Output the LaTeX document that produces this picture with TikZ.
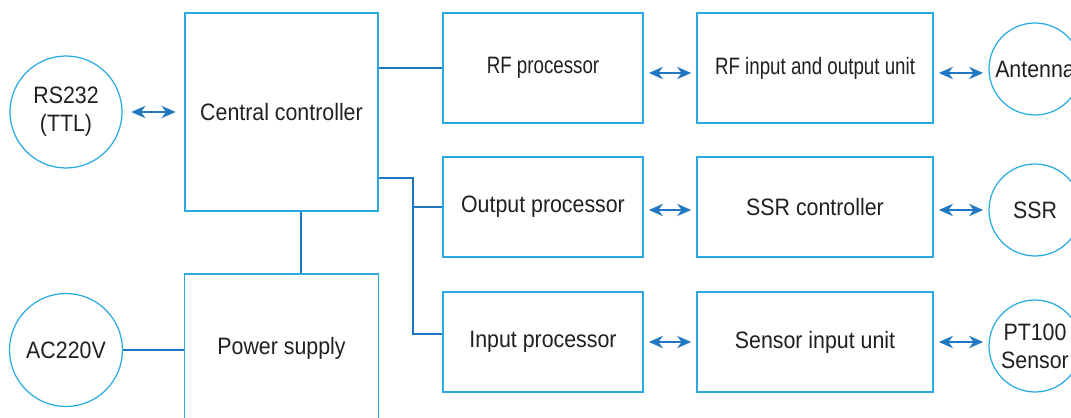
\documentclass[tikz,border=0pt]{standalone}
\usepackage{fontspec}
\setmainfont[FakeStretch=0.9]{Liberation Sans}
\newfontfamily\narrowfont[FakeStretch=0.79]{Liberation Sans}
\usetikzlibrary{arrows.meta}
\definecolor{boxblue}{RGB}{41,171,226}
\definecolor{linkblue}{RGB}{31,120,193}
\definecolor{inkgray}{RGB}{35,31,32}
\tikzset{
  unitbox/.style={draw=boxblue, line width=0.7pt, text=inkgray,
    font=\fontsize{13.5}{16}\selectfont},
  endpoint/.style={circle, draw=boxblue, line width=0.7pt, text=inkgray,
    align=center, inner sep=0pt, font=\fontsize{13.5}{16}\selectfont},
  link/.style={draw=linkblue, line width=0.8pt},
  biarrow/.style={draw=linkblue, line width=1pt,
    {Stealth[length=8pt,width=7pt]}-{Stealth[length=8pt,width=7pt]},
    shorten <=3pt, shorten >=3pt}
}
\begin{document}
\begin{tikzpicture}[x=0.02cm, y=-0.02cm]
      \clip (0,0) rectangle (1071,418);
      \fill[white] (0,0) rectangle (1071,418);
      \draw
        (281.5,112) node[unitbox, minimum width=3.86cm, minimum height=3.96cm] (cc){Central controller}
        (281.5,348) node[unitbox, minimum width=3.88cm, minimum height=2.96cm] (ps){Power supply}
        (66,112) node[endpoint, minimum size=2.24cm] (rs){RS232\\(TTL)}
        (66,350) node[endpoint, minimum size=2.26cm] (ac){AC220V}
        (543,68) node[unitbox, minimum width=4cm, minimum height=2.2cm, font=\narrowfont\fontsize{13.5}{16}\selectfont] (rfp){RF processor}
        (815,68) node[unitbox, minimum width=4.72cm, minimum height=2.2cm, font=\narrowfont\fontsize{13.5}{16}\selectfont] (rfu){RF input and output unit}
        (1035,69) node[endpoint, minimum size=1.84cm] (ant){Antenna}
        (543,207) node[unitbox, minimum width=4cm, minimum height=2cm] (outp){Output processor}
        (815,207) node[unitbox, minimum width=4.72cm, minimum height=2cm] (ssrc){SSR controller}
        (1035,210) node[endpoint, minimum size=1.84cm] (ssr){SSR}
        (543,342) node[unitbox, minimum width=4cm, minimum height=2cm] (inp){Input processor}
        (815,342) node[unitbox, minimum width=4.72cm, minimum height=2cm] (sens){Sensor input unit}
        (1035,346) node[endpoint, minimum size=1.84cm] (pt){PT100\\Sensor};
      \coordinate (split) at (413,178);
      \begin{scope}[link]
        \draw (rfp.west) -- (rfp.west -| cc.east);
        \draw (cc.east |- split) -- (split) |- ([yshift=0.16cm]inp.west);
        \draw (split |- outp.west) -- (outp.west);
        \draw ([xshift=0.39cm]cc.south) -- ([xshift=0.39cm]ps.north);
        \draw (ac.east) -- (ac.east -| ps.west);
      \end{scope}
      \begin{scope}[biarrow]
        \draw[shorten <=5pt, shorten >=5pt] (rs.east) -- (rs.east -| cc.west);
        \draw ([yshift=-0.1cm]rfp.east) -- ([yshift=-0.1cm]rfu.west);
        \draw ([yshift=-0.1cm]rfu.east) -- ([yshift=-0.1cm]rfu.east -| ant.west);
        \draw ([yshift=-0.06cm]outp.east) -- ([yshift=-0.06cm]ssrc.west);
        \draw ([yshift=-0.06cm]ssrc.east) -- ([yshift=-0.06cm]ssrc.east -| ssr.west);
        \draw (inp) -- (sens);
        \draw (sens.east) -- (sens.east -| pt.west);
      \end{scope}
    \end{tikzpicture}
\end{document}
